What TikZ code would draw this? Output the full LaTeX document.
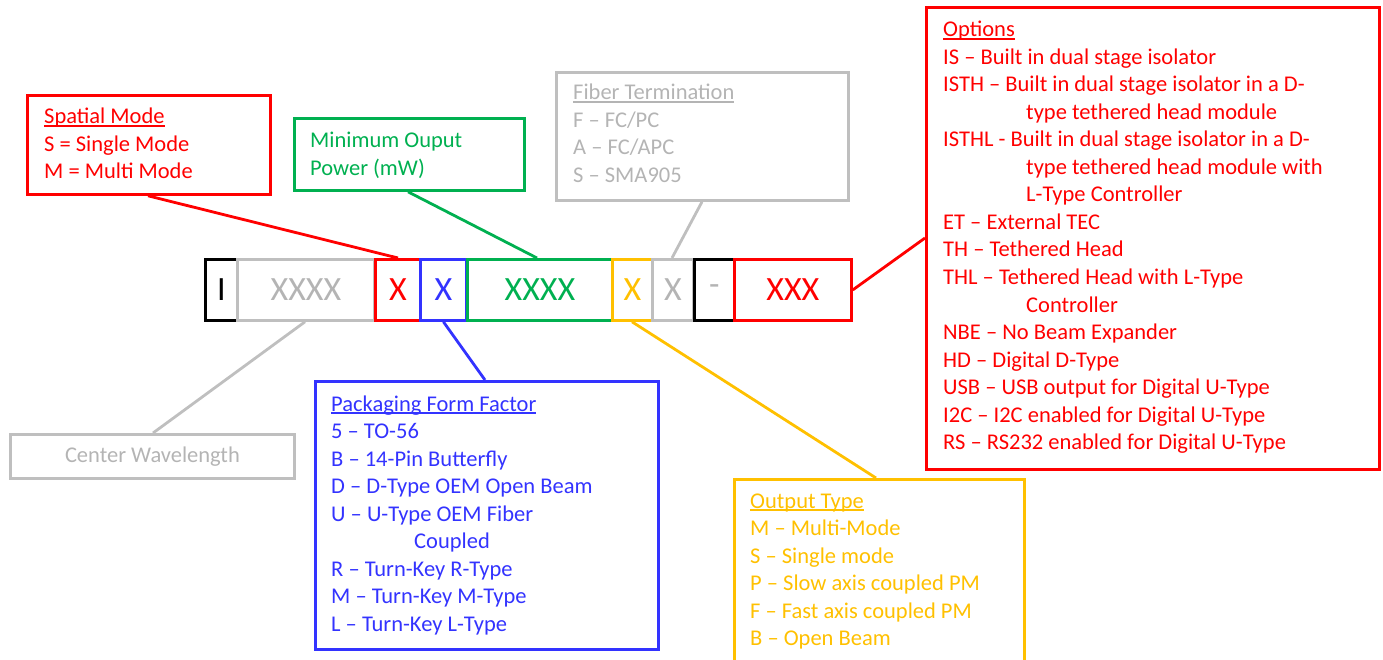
\documentclass[tikz,border=0pt]{standalone}
\usepackage{fontspec}
\setmainfont{Carlito}
\usetikzlibrary{calc}
\definecolor{cred}{HTML}{FF0000}
\definecolor{cblue}{HTML}{3333FF}
\definecolor{cgreen}{HTML}{00B050}
\definecolor{cgray}{HTML}{BFBFBF}
\definecolor{cgtext}{HTML}{B4B4B4}
\definecolor{cyel}{HTML}{FFC000}
\newcommand\myul[1]{\setbox0\hbox{#1}\rlap{\rule[-2.6pt]{\wd0}{1.3pt}}\box0}
\newcommand\ind{\hspace*{83pt}}
\begin{document}
\begin{tikzpicture}[x=1pt,y=-1pt,
  box/.style={draw, line width=2.8pt, inner sep=0pt, anchor=north west},
  cell/.style={draw, line width=2.8pt, inner sep=0pt, anchor=north west, minimum height=61pt, font=\fontsize{34}{40}\selectfont},
  lbl/.style={anchor=base west, inner sep=0pt, font=\fontsize{22.5}{27.5}\selectfont},
  conn/.style={line width=2.8pt}]
\useasboundingbox (0,0) rectangle (1383,660);
\clip (0,0) rectangle (1383,660);
% description boxes
\node[box, draw=cred, minimum width=243pt, minimum height=99pt] (sm) at (26,94) {};
\node[box, draw=cgreen, minimum width=230pt, minimum height=72pt] (mo) at (293,117) {};
\node[box, draw=cgray, minimum width=292pt, minimum height=128pt] (ft) at (555,71) {};
\node[box, draw=cred, minimum width=453pt, minimum height=462pt] (opt) at (925,6) {};
\node[box, draw=cgray, text=cgtext, minimum width=284pt, minimum height=44pt, font=\fontsize{22.5}{27.5}\selectfont] (cw) at (9,433) {Center Wavelength};
\node[box, draw=cblue, minimum width=343pt, minimum height=268pt] (pk) at (314,380) {};
\node[box, draw=cyel, minimum width=290pt, minimum height=200pt] (ot) at (733,478) {};
% code row
\node[cell, draw=black, minimum width=32pt] (c1) at (204,258) {I};
\node[cell, draw=cgray, text=cgtext, minimum width=137pt] (c2) at (236,258) {XXXX};
\node[cell, draw=cred, text=cred, minimum width=45pt] (c3) at (374,258) {X};
\node[cell, draw=cblue, text=cblue, minimum width=46pt] (c4) at (419,258) {X};
\node[cell, draw=cgreen, text=cgreen, minimum width=145pt] (c5) at (466,258) {XXXX};
\node[cell, draw=cyel, text=cyel, minimum width=40pt] (c6) at (611,258) {X};
\node[cell, draw=cgray, text=cgtext, minimum width=41pt] (c7) at (651,258) {X};
\node[cell, draw=black, text=cgtext, minimum width=40pt] (c8) at (693,258) {-};
\node[cell, draw=cred, text=cred, minimum width=117pt] (c9) at (733,258) {XXX};
% connectors
\draw[conn, cred] ($(sm.south west)+(122,0)$) -- ($(c3.north west)+(24,0)$);
\draw[conn, cgreen] ($(mo.south west)+(115,0)$) -- ($(c5.north west)+(71,0)$);
\draw[conn, cgray] ($(ft.south west)+(147,0)$) -- ($(c7.north west)+(21,0)$);
\draw[conn, cred] ($(opt.north west)+(0,232)$) -- (c9.east);
\draw[conn, cgray] ($(c2.south west)+(69,0)$) -- ($(cw.north west)+(144,0)$);
\draw[conn, cblue] (c4.south) -- ($(pk.north west)+(171,0)$);
\draw[conn, cyel] ($(c6.south west)+(21,0)$) -- ($(ot.north west)+(143,0)$);
% texts
\foreach \t [count=\i from 0] in {{\myul{Spatial Mode}},{S = Single Mode},{M = Multi Mode}}
  \node[lbl, text=cred] (smt\i) at (44,{124+27.5*\i}) {\t};
\foreach \t [count=\i from 0] in {{Minimum Ouput},{Power (mW)}}
  \node[lbl, text=cgreen] (mot\i) at (310,{148+27.5*\i}) {\t};
\foreach \t [count=\i from 0] in {{\myul{Fiber Termination}},{F – FC/PC},{A – FC/APC},{S – SMA905}}
  \node[lbl, text=cgtext] (ftt\i) at (573,{100+27.5*\i}) {\t};
\foreach \t [count=\i from 0] in {{\myul{Options}},{IS – Built in dual stage isolator},{ISTH – Built in dual stage isolator in a D-},{\ind type tethered  head module},{ISTHL - Built in dual stage isolator in a D-},{\ind type tethered  head module with},{\ind L-Type Controller},{ET – External TEC},{TH – Tethered Head},{THL – Tethered Head with L-Type},{\ind Controller},{NBE – No Beam Expander},{HD – Digital D-Type},{USB – USB output for Digital U-Type},{I2C – I2C enabled for Digital U-Type},{RS – RS232 enabled for Digital U-Type}}
  \node[lbl, text=cred] (optt\i) at (943,{37+27.5*\i}) {\t};
\foreach \t [count=\i from 0] in {{\myul{Packaging Form Factor}},{5 – TO-56},{B – 14-Pin Butterfly},{D – D-Type OEM Open Beam},{U – U-Type OEM Fiber},{\ind Coupled},{R – Turn-Key R-Type},{M – Turn-Key M-Type},{L – Turn-Key L-Type}}
  \node[lbl, text=cblue] (pkt\i) at (331,{411+27.5*\i}) {\t};
\foreach \t [count=\i from 0] in {{\myul{Output Type}},{M – Multi-Mode},{S – Single mode},{P – Slow axis coupled PM},{F – Fast axis coupled PM},{B – Open Beam}}
  \node[lbl, text=cyel] (ott\i) at (750,{508+27.5*\i}) {\t};
\end{tikzpicture}
\end{document}
